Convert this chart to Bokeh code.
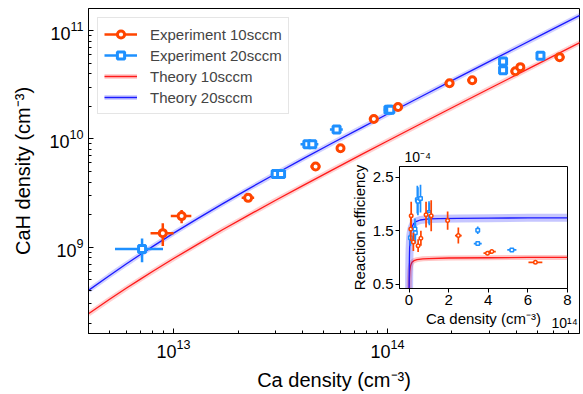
from bokeh.plotting import figure
from bokeh.models import (ColumnDataSource, Range1d, LogTicker, FixedTicker, LogTickFormatter,
                          Legend, LegendItem, Label, GridBox)
from bokeh.embed import file_html
from bokeh.resources import INLINE

# ---------------- data ----------------
# Main panel: CaH density (cm^-3) versus Ca density (cm^-3)
exp10_ca = [8.9e12, 1.09e13, 2.23e13, 4.61e13, 6.03e13, 8.63e13, 1.12e14, 1.95e14,
            2.49e14, 3.96e14, 4.18e14, 6.38e14]
exp10_cah = [1.35e9, 1.94e9, 2.86e9, 5.57e9, 8.22e9, 1.53e10, 1.97e10, 3.27e10,
             3.48e10, 4.21e10, 4.60e10, 5.69e10]
exp10_ca_err = [1.1e12, 1.2e12, 1.5e12, 2.5e12, 2.0e12, 4.5e12, 6e12, 1e13,
                1.3e13, 2e13, 2e13, 3.5e13]
exp10_cah_err = [0.32e9, 0.27e9, 0.1e9, 0.15e9, 0.2e9, 0.4e9, 0.5e9, 0.6e9,
                 0.6e9, 0.7e9, 0.8e9, 0.9e9]

exp20_ca = [7.12e12, 3.0e13, 3.18e13, 4.22e13, 4.45e13, 5.78e13, 1.01e14, 1.03e14,
            3.47e14, 3.47e14, 5.19e14]
exp20_cah = [9.66e8, 4.74e9, 4.74e9, 8.93e9, 8.93e9, 1.22e10, 1.86e10, 1.86e10,
             5.2e10, 4.3e10, 5.86e10]
exp20_ca_err = [1.8e12, 1.5e12, 1.5e12, 3e12, 3e12, 4e12, 5e12, 5e12,
                1e13, 1.5e13, 2e13]
exp20_cah_err = [0.24e9, 0.15e9, 0.15e9, 0.3e9, 0.3e9, 0.4e9, 0.5e9, 0.5e9,
                 1e9, 1e9, 1e9]

theory_ca = [4e12, 5e12, 6e12, 7e12, 8e12, 1e13, 1.3e13, 1.7e13, 2.2e13, 3e13, 4e13,
             5.5e13, 7.5e13, 1e14, 1.5e14, 2e14, 3e14, 4e14, 5.5e14, 8e14]
theory10_cah = [2.43e8, 3.29e8, 4.18e8, 5.08e8, 6.0e8, 7.87e8, 1.07e9, 1.46e9, 1.94e9,
                2.72e9, 3.69e9, 5.16e9, 7.12e9, 9.57e9, 1.45e10, 1.94e10, 2.92e10,
                3.90e10, 5.37e10, 7.82e10]
theory20_cah = [4.0e8, 5.47e8, 7.0e8, 8.58e8, 1.02e9, 1.35e9, 1.85e9, 2.53e9, 3.39e9,
                4.77e9, 6.51e9, 9.13e9, 1.26e10, 1.70e10, 2.57e10, 3.45e10, 5.20e10,
                6.95e10, 9.57e10, 1.395e11]

# Inset: reaction efficiency (x1e-4) versus Ca density (x1e14 cm^-3)
in10_ca = [0.09, 0.11, 0.22, 0.46, 0.60, 0.86, 1.12, 1.95, 2.49, 3.96, 4.18, 6.38]
in10_eff = [1.53, 1.78, 1.29, 1.22, 1.36, 1.80, 1.78, 1.69, 1.41, 1.08, 1.11, 0.91]
in10_ca_err = [0.01, 0.012, 0.015, 0.025, 0.02, 0.045, 0.06, 0.1, 0.17, 0.2, 0.2, 0.35]
in10_eff_err = [0.22, 0.26, 0.17, 0.12, 0.14, 0.24, 0.29, 0.17, 0.15, 0.04, 0.04, 0.03]

in20_ca = [0.07, 0.30, 0.32, 0.42, 0.45, 0.58, 1.01, 1.03, 3.47, 3.47, 5.19]
in20_eff = [1.37, 1.53, 1.46, 2.08, 2.05, 2.10, 1.84, 1.81, 1.51, 1.26, 1.14]
in20_ca_err = [0.018, 0.015, 0.015, 0.03, 0.03, 0.04, 0.05, 0.05, 0.1, 0.2, 0.23]
in20_eff_err = [0.15, 0.2, 0.2, 0.26, 0.26, 0.26, 0.21, 0.21, 0.07, 0.04, 0.03]

in_th20_ca = [0, 0.005, 0.01, 0.02, 0.03, 0.05, 0.07, 0.1, 0.15, 0.23, 0.35, 0.57,
              1.0, 1.5, 2.5, 4, 6, 8]
in_th20_eff = [0, 0.40, 0.70, 1.00, 1.16, 1.33, 1.42, 1.50, 1.57, 1.63, 1.67, 1.70,
               1.72, 1.725, 1.73, 1.735, 1.74, 1.74]
in_th10_ca = [0, 0.005, 0.01, 0.02, 0.04, 0.07, 0.1, 0.15, 0.25, 0.4, 0.7, 1.0,
              2, 4, 6, 8]
in_th10_eff = [0, 0.25, 0.42, 0.60, 0.75, 0.83, 0.87, 0.91, 0.94, 0.96, 0.975, 0.98,
               0.99, 0.995, 1.0, 1.0]

inset_x_ticks = [0, 2, 4, 6, 8]
inset_y_ticks = [0.5, 1.5, 2.5]
inset_y_multiplier = "10\u207b\u2074"
inset_x_multiplier = "10\u00b9\u2074"

# ---------------- styling ----------------
FONT = "Liberation Sans"
ORANGE = "#ff4500"
DBLUE = "#1e90ff"
TH_RED = "#ff1a1a"
TH_BLUE = "#1a1aff"


def err_source(x, y, xe, ye):
    return ColumnDataSource(dict(
        x=x, y=y,
        xl=[a - b for a, b in zip(x, xe)], xh=[a + b for a, b in zip(x, xe)],
        yl=[a - b for a, b in zip(y, ye)], yh=[a + b for a, b in zip(y, ye)]))


def add_points(fig, src, color, marker, size, lw, elw):
    rx = fig.segment("xl", "y", "xh", "y", source=src, line_color=color, line_width=elw)
    ry = fig.segment("x", "yl", "x", "yh", source=src, line_color=color, line_width=elw)
    rm = fig.scatter("x", "y", source=src, marker=marker, size=size, line_color=color,
                     line_width=lw, fill_color="white")
    return rx, ry, rm


def style_axis(ax, tick_size, label_size):
    ax.major_label_text_font = FONT
    ax.major_label_text_font_size = tick_size
    ax.axis_label_text_font = FONT
    ax.axis_label_text_font_size = label_size
    ax.axis_label_text_font_style = "normal"
    ax.axis_line_color = "black"
    ax.major_tick_line_color = "black"
    ax.minor_tick_line_color = "black"
    ax.major_label_text_color = "black"
    ax.axis_label_text_color = "black"


# ---------------- main figure ----------------
p = figure(width=583, height=394, x_axis_type="log", y_axis_type="log",
           x_range=Range1d(4.0e12, 7.9e14), y_range=Range1d(1.6e8, 1.6e11),
           output_backend="svg", toolbar_location=None,
           min_border_left=88, min_border_right=4, min_border_top=8, min_border_bottom=61)
p.xgrid.visible = False
p.ygrid.visible = False
p.outline_line_color = "black"
p.outline_line_width = 1
p.background_fill_color = "white"
p.border_fill_color = "white"

for ax in (p.xaxis[0], p.yaxis[0]):
    ax.ticker = LogTicker(num_minor_ticks=10)
    ax.formatter = LogTickFormatter()
    ax.major_tick_in = 5
    ax.major_tick_out = 0
    ax.minor_tick_in = 3
    ax.minor_tick_out = 0
    style_axis(ax, "18px", "20px")
p.xaxis.axis_label = "Ca density (cm\u207b\u00b3)"
p.yaxis.axis_label = "CaH density (cm\u207b\u00b3)"
p.xaxis.axis_label_standoff = 8
p.yaxis.axis_label_standoff = 12
p.xaxis.major_label_standoff = 5
p.yaxis.major_label_standoff = 5

th_src = ColumnDataSource(dict(x=theory_ca, y10=theory10_cah, y20=theory20_cah))
b10 = p.line("x", "y10", source=th_src, line_color=TH_RED, line_alpha=0.2, line_width=5)
l10 = p.line("x", "y10", source=th_src, line_color=TH_RED, line_width=1.3)
b20 = p.line("x", "y20", source=th_src, line_color=TH_BLUE, line_alpha=0.2, line_width=5)
l20 = p.line("x", "y20", source=th_src, line_color=TH_BLUE, line_width=1.3)

s10 = err_source(exp10_ca, exp10_cah, exp10_ca_err, exp10_cah_err)
s20 = err_source(exp20_ca, exp20_cah, exp20_ca_err, exp20_cah_err)
rx20, ry20, rm20 = add_points(p, s20, DBLUE, "square", 7, 3, 2.5)
rx10, ry10, rm10 = add_points(p, s10, ORANGE, "circle", 7, 3, 2.5)

legend = Legend(items=[
    LegendItem(label="Experiment 10sccm", renderers=[rx10, rm10]),
    LegendItem(label="Experiment 20sccm", renderers=[rx20, rm20]),
    LegendItem(label="Theory 10sccm", renderers=[b10, l10]),
    LegendItem(label="Theory 20sccm", renderers=[b20, l20]),
], location="top_left")
legend.label_text_font = FONT
legend.label_text_font_size = "15px"
legend.glyph_width = 33
legend.glyph_height = 18
legend.label_height = 20
legend.label_standoff = 13
legend.spacing = 1
legend.padding = 6
legend.margin = 9
legend.border_line_color = "#cccccc"
legend.background_fill_alpha = 0.85
p.add_layout(legend)

# multiplier of the inset x axis, drawn in the main canvas (lies inside the main frame)
p.add_layout(Label(x=7.75e14, y=2.0e8, text=inset_x_multiplier,
                   text_font=FONT, text_font_size="14px", text_baseline="alphabetic",
                   text_align="right", text_color="black"))

# ---------------- inset figure ----------------
pin = figure(width=240, height=184, x_range=Range1d(-0.48, 8.0), y_range=Range1d(0.42, 2.70),
             output_backend="svg", toolbar_location=None,
             min_border_left=59, min_border_right=13, min_border_top=21, min_border_bottom=40)
pin.xgrid.visible = False
pin.ygrid.visible = False
pin.outline_line_color = "black"
pin.outline_line_width = 1
pin.background_fill_color = "white"
pin.border_fill_alpha = 0
pin.title.text = inset_y_multiplier
pin.title.align = "left"
pin.title.offset = 5
pin.title.standoff = 3
pin.title.text_font = FONT
pin.title.text_font_size = "14px"
pin.title.text_font_style = "normal"
pin.title.text_color = "black"

for ax, ticks in ((pin.xaxis[0], inset_x_ticks), (pin.yaxis[0], inset_y_ticks)):
    ax.ticker = FixedTicker(ticks=ticks)
    ax.major_tick_in = 0
    ax.major_tick_out = 4
    ax.minor_tick_in = 0
    ax.minor_tick_out = 0
    ax.major_label_standoff = 2
    ax.axis_label_standoff = 2
    style_axis(ax, "15px", "15px")
pin.xaxis.axis_label = "Ca density (cm\u207b\u00b3)"
pin.yaxis.axis_label = "Reaction efficiency"

ith = ColumnDataSource(dict(x=in_th10_ca, y=in_th10_eff))
ith2 = ColumnDataSource(dict(x=in_th20_ca, y=in_th20_eff))
pin.line("x", "y", source=ith, line_color=TH_RED, line_alpha=0.25, line_width=5)
pin.line("x", "y", source=ith, line_color=TH_RED, line_width=1.3)
pin.line("x", "y", source=ith2, line_color=TH_BLUE, line_alpha=0.25, line_width=8)
pin.line("x", "y", source=ith2, line_color=TH_BLUE, line_width=1.3)

add_points(pin, err_source(in20_ca, in20_eff, in20_ca_err, in20_eff_err), DBLUE, "square", 3.5, 1.5, 1.7)
add_points(pin, err_source(in10_ca, in10_eff, in10_ca_err, in10_eff_err), ORANGE, "circle", 3.5, 1.5, 1.7)

layout = GridBox(children=[(p, 0, 0, 3, 3), (pin, 1, 1, 1, 1)],
                 rows=["145px", "184px", "65px"], cols=["340px", "240px", "3px"], spacing=0)

open("out.html", "w").write(file_html(layout, INLINE))
